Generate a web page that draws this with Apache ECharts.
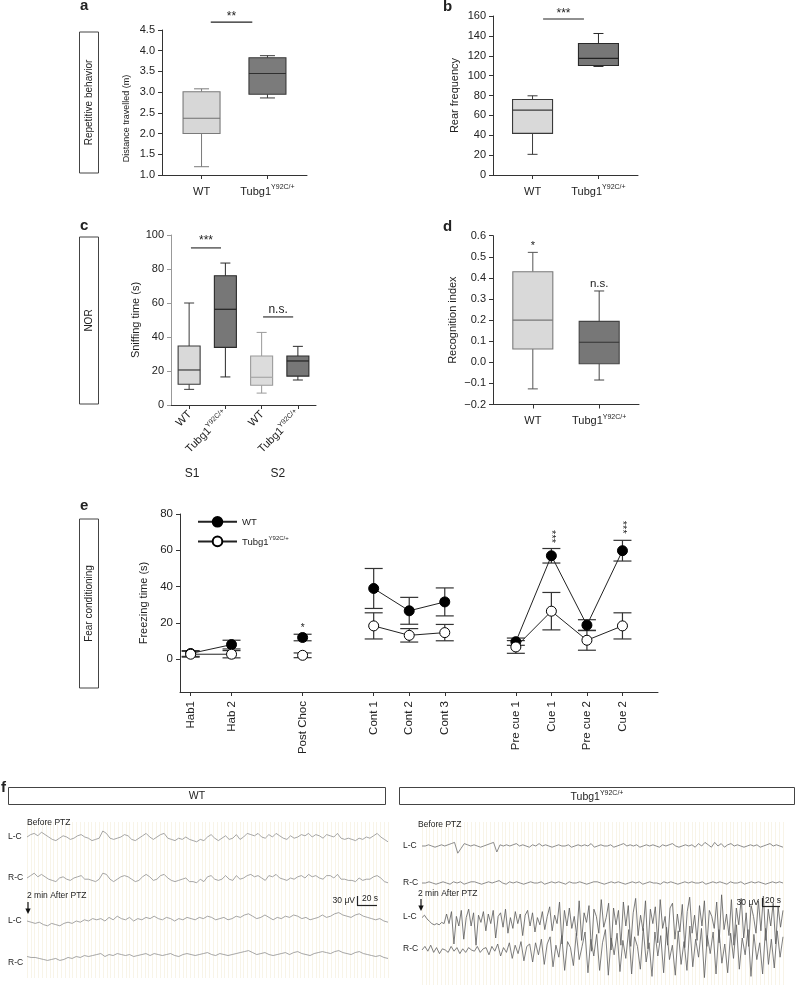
<!DOCTYPE html>
<html><head><meta charset="utf-8">
<script src="https://cdn.jsdelivr.net/npm/echarts@6.0.0/dist/echarts.min.js"></script>
<style>html,body{margin:0;padding:0;background:#fff}#c{width:796px;height:986px}</style>
</head><body><div id="c"></div>
<script>
// ---------------- DATA ----------------
const genotypes = ['WT', 'Tubg1'];
const mutantSup = 'Y92C/+';
// [min, Q1, median, Q3, max]
const distanceTravelled = [[1.2, 2.0, 2.37, 3.01, 3.08], [2.86, 2.95, 3.45, 3.83, 3.88]];
const rearFrequency = [[20.8, 41.9, 65.3, 76, 79.7], [109.2, 110.2, 117.3, 132.4, 142.4]];
const sniffGenotypes = ['WT', 'Tubg1', 'WT', 'Tubg1'];
const sniffSessions = ['S1', 'S2'];
const sniffingTime = [[9.2, 12.2, 20.6, 34.7, 60], [16.5, 33.9, 56.3, 76, 83.5], [7, 11.6, 16.3, 28.8, 42.7], [14.7, 17, 25.9, 28.8, 34.5]];
const recognitionIndex = [[-0.126, 0.063, 0.2, 0.429, 0.521], [-0.084, -0.007, 0.095, 0.194, 0.338]];

const fearPhases = ['Hab1', 'Hab 2', 'Post Choc', 'Cont 1', 'Cont 2', 'Cont 3', 'Pre cue 1', 'Cue 1', 'Pre cue 2', 'Cue 2'];
const phaseX = [0.3, 1.45, 3.45, 5.45, 6.45, 7.45, 9.45, 10.45, 11.45, 12.45];
const phaseBlock = [0, 0, 1, 2, 2, 2, 3, 3, 3, 3];
const wtFreezing = [3.2, 8.1, 12, 39, 26.7, 31.6, 9.7, 57, 18.8, 59.8];
const wtSem = [1.6, 2.4, 1.8, 11, 7.4, 7.7, 2, 4, 3, 5.7];
const tubgFreezing = [2.8, 2.8, 2.2, 18.4, 13.2, 14.7, 6.8, 26.5, 10.5, 18.4];
const tubgSem = [1.6, 2, 1.3, 7.2, 3.7, 4.5, 3.5, 10.3, 5.5, 7.2];
const freezeTicks = [0, 20, 40, 60, 80];

// EEG traces (hand-read, arbitrary units)
const wtLCpre = [0,2,3,1,4,2,0,-2,-3,-1,1,0,-2,-1,1,2,0,-1,-3,-2,-1,5,3,-1,-2,-1,0,2,1,-2,-3,-1,1,3,0,-2,0,2,3,-1,-2,-3,-1,-2,0,-2,-3,-4,-2,-3,0,2,-1,-3,-1,1,-2,-1,2,-2,0,3,2,1,3,0,-1,2,0,3,1,-1,-2,1,-1,0,2,1,3,0,2,1,-1,2,1,0,3,-1,-2,-1,-2,-3,-1,-2,0,-1,1,3,0,-2,-4];
const wtRCpre = [0,2,4,1,3,1,-1,-2,-3,0,1,-1,-2,0,1,2,-1,-1,-2,-3,-1,4,3,-1,-3,-1,1,2,1,-1,-3,-2,1,3,1,-2,-1,2,3,0,-2,-3,-2,-1,0,-3,-3,-4,-1,-3,1,2,-1,-2,-1,2,-1,-2,2,-1,0,2,3,1,2,0,-2,2,1,3,0,-1,-2,0,-1,1,2,0,3,1,2,0,-1,2,2,0,3,-1,-1,-2,-2,-3,0,-2,-1,-1,1,2,0,-3,-4];
const wtLCpost = [0,-1,-2,-1,-3,-4,-2,-3,-4,-2,-1,-2,0,-1,1,0,2,1,2,0,3,1,4,2,1,3,0,2,1,3,2,4,2,1,3,2,0,2,1,3,2,1,3,2,4,3,1,2,3,1,2,4,3,5,6,4,2,3,5,3,1,3,2,4,3,5,4,2,3,1,2,3,5,3,4,6,7,5,4,3,5,6,4,3,2,1,2,0,-1];
const wtRCpost = [0,-1,-1,-2,-3,-4,-3,-2,-4,-3,-1,-2,0,-1,1,0,1,2,3,0,2,1,3,2,1,2,0,1,2,3,1,3,2,1,2,3,1,0,2,3,2,1,2,3,4,2,1,3,2,1,2,3,4,5,6,4,2,3,4,2,1,2,3,4,2,4,5,3,2,1,3,4,5,4,3,5,6,4,3,2,4,5,3,2,1,0,1,-1,-2];
const mutLCpre = [0,0,1,0,-1,0,1,0,1,2,3,-6,-2,2,1,0,1,0,-1,0,1,2,3,-5,1,0,1,0,1,2,0,1,0,-1,1,0,2,0,1,0,-1,0,1,0,0,1,-1,0,1,0,1,0,2,-1,0,1,0,0,1,-1,0,1,2,0,1,0,1,-1,0,1,0,1,0,-1,1,0,1,2,0,-1,0,1,0,1,-1,2,0,3,1,-1,3,0,2,-1,1,2,0,1,0,-1,0,1,0,1,-1,0,1,2,0,1,0,-1];
const mutRCpre = [0,0,1,0,-1,0,1,0,-1,1,0,1,-1,0,1,1,0,-1,0,1,0,1,2,0,-1,1,0,1,0,-1,0,1,0,0,1,-1,0,1,0,1,0,-1,1,0,0,1,0,-1,0,1,1,0,-1,0,1,0,1,0,-1,0,1,0,1,-1,0,1,0,0,-1,1,0,1,0,-1,0,1,0,1,0,0,1,-1,0,1,0,1,0,-1,1,0,0,1,-1,0,1,0,1,0,-1,0,1,0,1,0];
const mutLCpost = [2,4,1,-1,-3,-4,-3,-4,-2,-3,5,-3,7,-20,3,-5,8,-16,2,9,-5,6,-21,4,-2,7,-9,5,-3,8,-15,3,6,-6,9,-11,2,-7,7,-3,5,-13,4,8,-5,6,-10,2,-4,7,-8,3,11,-9,4,-3,15,-20,8,-5,10,-7,3,-13,16,-17,6,-2,12,-26,9,3,-11,17,-6,2,14,-25,10,-4,8,-21,15,-5,12,-22,6,18,-13,4,-9,16,-24,9,-3,11,-19,17,-7,3,-21,10,14,-16,5,-10,13,-23,7,19,-11,4,-17,12,-5,16,-22,8,3,-7,15,-19,21,-8,5,-13,17,-21,10,-4,18,-15,6,-22,12,3,-11,16,-9,20,-17,9,-5,14,-20,11,-6,8];
const mutRCpost = [0,3,-1,4,-2,2,-3,1,0,-2,3,-1,2,-3,1,-2,2,0,-1,3,-2,1,2,-4,3,-1,5,-5,2,-2,6,-7,4,-3,7,-9,3,5,-10,6,-4,9,-12,5,11,-14,4,-6,12,-17,7,2,-13,14,-8,3,15,-19,9,-5,13,-17,6,17,-21,10,-4,14,-18,8,-7,17,-20,11,3,-16,18,-10,6,-22,15,-5,12,-19,19,-8,4,-21,16,-12,7,-17,20,-14,9,-6,18,-23,12,-3,15,-20,17,-11,5,-19,14,-7,21,-16,10,-4,17,-22,13,-8,6,-20,18,-12,9,-15,16,-6,11];

// ---------------- STYLE / LAYOUT ----------------
const F = '"Liberation Sans", Arial, Helvetica, sans-serif';
const TXT = '#222';
const AX = '#333';
function rich(size, sup) {
  return {
    n: {fontSize: size, fontFamily: F, color: TXT, lineHeight: size + 2, verticalAlign: 'bottom'},
    s: {fontSize: sup, fontFamily: F, color: TXT, lineHeight: sup + 2, verticalAlign: 'top'}
  };
}
function genoLabel(g) { return g === 'WT' ? '{n|WT}' : '{n|Tubg1}{s|' + mutantSup + '}'; }
function idxOf(arr, v) { let b = 0, d = 1e9; arr.forEach((a, i) => { if (Math.abs(a - v) < d) { d = Math.abs(a - v); b = i; } }); return b; }

const grids = [
  {left: 162, top: 30, width: 145, height: 145},   // a
  {left: 493, top: 16, width: 145, height: 159},   // b
  {left: 171, top: 235, width: 145, height: 170},  // c
  {left: 493, top: 235.7, width: 146, height: 168.8}, // d
  {left: 180, top: 514, width: 478, height: 178},  // e
  {left: 27, top: 801, width: 361, height: 72},
  {left: 27, top: 842, width: 361, height: 72},
  {left: 27, top: 885, width: 361, height: 72},
  {left: 27, top: 927, width: 361, height: 72},
  {left: 422, top: 810, width: 361, height: 72},
  {left: 422, top: 847, width: 361, height: 72},
  {left: 422, top: 884, width: 361, height: 72},
  {left: 422, top: 914, width: 361, height: 72},
  {left: 27, top: 822, width: 361, height: 156},   // bg WT
  {left: 422, top: 822, width: 361, height: 163}   // bg mutant
];

function catX(grid, min, max, ticks, fmt, extra) {
  return Object.assign({
    gridIndex: grid, type: 'value', min: min, max: max,
    axisLine: {onZero: false, lineStyle: {color: AX, width: 1}},
    axisTick: {customValues: ticks, length: 4, lineStyle: {color: AX}},
    axisLabel: {customValues: ticks, formatter: fmt, color: TXT, fontSize: 11, margin: 9, rich: rich(11, 7)},
    splitLine: {show: false}
  }, extra || {});
}
function valY(grid, min, max, interval, fmt, name, gap, extra) {
  return Object.assign({
    gridIndex: grid, type: 'value', min: min, max: max, interval: interval,
    axisLine: {show: true, onZero: false, lineStyle: {color: AX, width: 1}},
    axisTick: {show: true, length: 4, lineStyle: {color: AX}},
    axisLabel: {formatter: fmt, color: TXT, fontSize: 11, margin: 7},
    splitLine: {show: false},
    name: name, nameLocation: 'middle', nameGap: gap,
    nameTextStyle: {color: TXT, fontSize: 11, fontFamily: F}
  }, extra || {});
}

const xAxes = [
  catX(0, -0.6, 1.6, [0, 1], v => genoLabel(genotypes[Math.round(v)])),
  catX(1, -0.6, 1.6, [0, 1], v => genoLabel(genotypes[Math.round(v)])),
  catX(2, -0.5, 3.5, [0, 1, 2, 3], v => genoLabel(sniffGenotypes[Math.round(v)]),
    {axisLabel: {customValues: [0, 1, 2, 3], formatter: v => genoLabel(sniffGenotypes[Math.round(v)]), rotate: 45, color: TXT, fontSize: 11, margin: 7, rich: rich(11, 7)}}),
  catX(3, -0.6, 1.6, [0, 1], v => genoLabel(genotypes[Math.round(v)])),
  catX(4, 0, 13.45, phaseX, v => fearPhases[idxOf(phaseX, v)],
    {axisLabel: {customValues: phaseX, formatter: v => fearPhases[idxOf(phaseX, v)], rotate: 90, color: TXT, fontSize: 11.5, margin: 9}})
];
const yAxes = [
  valY(0, 1, 4.5, 0.5, v => v.toFixed(1), 'Distance travelled (m)', 31, {nameTextStyle: {color: TXT, fontSize: 9, fontFamily: F, padding: [0, 32, 0, 0]}}),
  valY(1, 0, 160, 20, v => String(v), 'Rear frequency', 33),
  valY(2, 0, 100, 20, v => String(v), 'Sniffing time (s)', 30, {axisLine: {show: true, onZero: false, lineStyle: {color: '#999'}}, axisTick: {show: true, length: 4, lineStyle: {color: '#999'}}}),
  valY(3, -0.2, 0.6, 0.1, v => (v < -1e-9 ? '\u2212' : '') + Math.abs(v).toFixed(1), 'Recognition index', 35),
  valY(4, -18, 80, null, v => String(v), 'Freezing time (s)', 29,
    {interval: undefined, axisLabel: {customValues: freezeTicks, color: TXT, fontSize: 11.5, margin: 7}, axisTick: {show: true, customValues: freezeTicks, length: 4, lineStyle: {color: AX}}})
];

const traces = [
  {data: wtLCpre, color: '#8f8f8f'}, {data: wtRCpre, color: '#8f8f8f'},
  {data: wtLCpost, color: '#8f8f8f'}, {data: wtRCpost, color: '#8f8f8f'},
  {data: mutLCpre, color: '#707070'}, {data: mutRCpre, color: '#707070'},
  {data: mutLCpost, color: '#5a5a5a'}, {data: mutRCpost, color: '#5e5e5e'}
];
traces.forEach((t, k) => {
  xAxes.push({gridIndex: 5 + k, type: 'value', min: 0, max: t.data.length - 1, show: false, splitLine: {show: false}});
  yAxes.push({gridIndex: 5 + k, type: 'value', min: -30, max: 30, show: false, splitLine: {show: false}});
});
[13, 14].forEach(g => {
  xAxes.push({gridIndex: g, type: 'value', min: 0, max: 95, interval: 1, axisLine: {show: false}, axisTick: {show: false}, axisLabel: {show: false},
    splitLine: {show: true, lineStyle: {color: '#f8f4e8', width: 1}}});
  yAxes.push({gridIndex: g, type: 'value', min: 0, max: 1, show: false, splitLine: {show: false}});
});
// session labels under panel c (S1 / S2)
const sessionAt = [0.08, 2.45];
xAxes.push({gridIndex: 2, type: 'value', min: -0.5, max: 3.5, position: 'bottom', offset: 58,
  axisLine: {show: false, onZero: false}, axisTick: {show: false}, splitLine: {show: false},
  axisLabel: {customValues: sessionAt, formatter: v => sniffSessions[idxOf(sessionAt, v)], color: TXT, fontSize: 12, margin: 5}});

// ---------------- SERIES ----------------
function boxSeries(grid, values, looks, capW, boxW) {
  return {
    type: 'custom', xAxisIndex: grid, yAxisIndex: grid, z: 3,
    data: values.map((v, i) => [i].concat(v)),
    encode: {x: 0, y: [1, 2, 3, 4, 5]},
    renderItem: (params, api) => {
      const x = api.value(0);
      const p = k => api.coord([x, api.value(k)]);
      const pMin = p(1), pQ1 = p(2), pMd = p(3), pQ3 = p(4), pMax = p(5);
      const cx = pMin[0], hb = boxW / 2, hc = capW / 2;
      const st = looks[params.dataIndex];
      const ws = {stroke: st.whisker, lineWidth: 1};
      return {type: 'group', children: [
        {type: 'line', shape: {x1: cx, y1: pMax[1], x2: cx, y2: pQ3[1]}, style: ws},
        {type: 'line', shape: {x1: cx, y1: pQ1[1], x2: cx, y2: pMin[1]}, style: ws},
        {type: 'line', shape: {x1: cx - hc, y1: pMax[1], x2: cx + hc, y2: pMax[1]}, style: ws},
        {type: 'line', shape: {x1: cx - hc, y1: pMin[1], x2: cx + hc, y2: pMin[1]}, style: ws},
        {type: 'rect', shape: {x: cx - hb, y: pQ3[1], width: boxW, height: pQ1[1] - pQ3[1]}, style: {fill: st.fill, stroke: st.border, lineWidth: 1.1}},
        {type: 'line', shape: {x1: cx - hb, y1: pMd[1], x2: cx + hb, y2: pMd[1]}, style: {stroke: st.median, lineWidth: 1.2}}
      ]};
    }
  };
}
const lightA = {fill: '#d7d7d7', border: '#7a7a7a', whisker: '#7a7a7a', median: '#6f6f6f'};
const darkA = {fill: '#7b7b7b', border: '#3a3a3a', whisker: '#3a3a3a', median: '#2f2f2f'};
const lightB = {fill: '#d9d9d9', border: '#3a3a3a', whisker: '#3a3a3a', median: '#3a3a3a'};
const darkB = {fill: '#777777', border: '#2a2a2a', whisker: '#2a2a2a', median: '#222'};
const lightC2 = {fill: '#dcdcdc', border: '#9a9a9a', whisker: '#9a9a9a', median: '#a8a8a8'};
const lightD = {fill: '#d9d9d9', border: '#7a7a7a', whisker: '#555', median: '#777'};
const darkD = {fill: '#777777', border: '#444', whisker: '#444', median: '#333'};

// significance annotations: [x1, x2, y] in data space of each panel
function sigSeries(grid, items, gap) {
  return {
    type: 'custom', xAxisIndex: grid, yAxisIndex: grid, z: 4,
    data: items.map(it => [it.x1, it.y, it.x2]),
    encode: {x: [0, 2], y: 1},
    renderItem: (params, api) => {
      const it = items[params.dataIndex];
      const a = api.coord([api.value(0), api.value(1)]);
      const b = api.coord([api.value(2), api.value(1)]);
      const ch = [];
      if (it.line) ch.push({type: 'line', shape: {x1: a[0], y1: a[1], x2: b[0], y2: b[1]}, style: {stroke: '#222', lineWidth: 1.1}});
      ch.push({type: 'text', x: (a[0] + b[0]) / 2, y: a[1] - (it.line ? gap : 0), rotation: it.rot || 0,
        style: {text: it.text, fill: TXT, fontSize: it.size, fontFamily: F, align: 'center', verticalAlign: 'middle'}});
      return {type: 'group', children: ch};
    }
  };
}

function errSeries(vals, sems) {
  return {
    type: 'custom', xAxisIndex: 4, yAxisIndex: 4, z: 2,
    data: vals.map((v, i) => [phaseX[i], v - sems[i], v + sems[i]]),
    encode: {x: 0, y: [1, 2]},
    renderItem: (params, api) => {
      const lo = api.coord([api.value(0), api.value(1)]);
      const hi = api.coord([api.value(0), api.value(2)]);
      const w = 9, s = {stroke: '#333', lineWidth: 1.2};
      return {type: 'group', children: [
        {type: 'line', shape: {x1: lo[0], y1: lo[1], x2: hi[0], y2: hi[1]}, style: s},
        {type: 'line', shape: {x1: lo[0] - w, y1: lo[1], x2: lo[0] + w, y2: lo[1]}, style: s},
        {type: 'line', shape: {x1: hi[0] - w, y1: hi[1], x2: hi[0] + w, y2: hi[1]}, style: s}
      ]};
    }
  };
}
function lineData(vals) {
  const out = [];
  vals.forEach((v, i) => {
    if (i > 0 && phaseBlock[i] !== phaseBlock[i - 1]) out.push([(phaseX[i] + phaseX[i - 1]) / 2, '-']);
    out.push([phaseX[i], v]);
  });
  return out;
}

const series = [
  boxSeries(0, distanceTravelled, [lightA, darkA], 15, 37),
  sigSeries(0, [{x1: 0.14, x2: 0.77, y: 4.69, text: '**', size: 12, line: true}], 5),
  boxSeries(1, rearFrequency, [lightB, darkB], 10, 40),
  sigSeries(1, [{x1: 0.16, x2: 0.78, y: 157, text: '***', size: 12, line: true}], 5),
  boxSeries(2, sniffingTime, [lightB, darkB, lightC2, darkB], 10, 22),
  sigSeries(2, [{x1: 0.05, x2: 0.88, y: 92.4, text: '***', size: 12, line: true},
                {x1: 2.04, x2: 2.87, y: 51.8, text: 'n.s.', size: 12, line: true}], 7),
  boxSeries(3, recognitionIndex, [lightD, darkD], 10, 40),
  sigSeries(3, [{x1: 0, x2: 0, y: 0.553, text: '*', size: 11}, {x1: 1, x2: 1, y: 0.371, text: 'n.s.', size: 11.5}], 0),
  errSeries(wtFreezing, wtSem),
  errSeries(tubgFreezing, tubgSem),
  {name: 'WT', type: 'line', xAxisIndex: 4, yAxisIndex: 4, z: 3, data: lineData(wtFreezing), connectNulls: false,
    symbol: 'circle', symbolSize: 10, showSymbol: true, lineStyle: {color: '#222', width: 1},
    itemStyle: {color: '#000', borderColor: '#000', borderWidth: 1}},
  {name: 'Tubg1', type: 'line', xAxisIndex: 4, yAxisIndex: 4, z: 4, data: lineData(tubgFreezing), connectNulls: false,
    symbol: 'circle', symbolSize: 10, showSymbol: true, lineStyle: {color: '#222', width: 1},
    itemStyle: {color: '#fff', borderColor: '#000', borderWidth: 1}},
  sigSeries(4, [{x1: 3.45, x2: 3.45, y: 17.3, text: '*', size: 10},
                {x1: 10.45, x2: 10.45, y: 67.6, text: '***', size: 11, rot: -Math.PI / 2},
                {x1: 12.45, x2: 12.45, y: 72.7, text: '***', size: 11, rot: -Math.PI / 2}], 0)
];
series[series.length - 1].z = 5;
traces.forEach((t, k) => {
  series.push({type: 'line', xAxisIndex: 5 + k, yAxisIndex: 5 + k, data: t.data.map((v, i) => [i, v]),
    showSymbol: false, symbol: 'none', lineStyle: {color: t.color, width: 0.8}, z: 3, silent: true});
});

// ---------------- GRAPHIC TEXT / FRAMES ----------------
const G = [];
function txt(x, y, text, o) {
  o = o || {};
  G.push({type: 'text', x: x, y: y, rotation: o.rot || 0, z: 10,
    style: {text: text, fill: o.color || TXT, fontSize: o.size || 11, fontFamily: F, fontWeight: o.weight || 'normal',
      align: o.align || 'left', verticalAlign: o.va || 'middle', rich: o.rich}});
}
function rect(x, y, w, h) { G.push({type: 'rect', z: 9, shape: {x: x, y: y, width: w, height: h}, style: {fill: '#fff', stroke: '#444', lineWidth: 1}}); }
function seg(x1, y1, x2, y2, c, w) { G.push({type: 'line', z: 10, shape: {x1: x1, y1: y1, x2: x2, y2: y2}, style: {stroke: c || '#222', lineWidth: w || 1}}); }

txt(80, 6, 'a', {size: 15, weight: 'bold'});
txt(443, 7, 'b', {size: 15, weight: 'bold'});
txt(80, 226, 'c', {size: 15, weight: 'bold'});
txt(443, 227, 'd', {size: 15, weight: 'bold'});
txt(80, 506, 'e', {size: 15, weight: 'bold'});
txt(1, 788, 'f', {size: 15, weight: 'bold'});

rect(79.5, 32, 19, 141); txt(89, 102.5, 'Repetitive behavior', {size: 10, align: 'center', rot: Math.PI / 2});
rect(79.5, 237, 19, 167); txt(89, 320.5, 'NOR', {size: 10, align: 'center', rot: Math.PI / 2});
rect(79.5, 519, 19, 169); txt(89, 603.5, 'Fear conditioning', {size: 10, align: 'center', rot: Math.PI / 2});

rect(8.5, 787.5, 377, 17); txt(197, 796, 'WT', {size: 10.5, align: 'center'});
rect(399.5, 787.5, 395, 17);
txt(597, 796, '{n|Tubg1}{s|' + mutantSup + '}', {size: 10.5, align: 'center', rich: rich(10.5, 7)});

// trace labels WT
txt(27, 823, 'Before PTZ', {size: 8.5});
txt(8, 837, 'L-C', {size: 8.5});
txt(8, 878, 'R-C', {size: 8.5});
txt(27, 896, '2 min After PTZ', {size: 8.5});
txt(8, 921, 'L-C', {size: 8.5});
txt(8, 963, 'R-C', {size: 8.5});
seg(28, 902, 28, 910, '#111', 1.2);
G.push({type: 'polygon', z: 10, shape: {points: [[25.3, 908.5], [30.7, 908.5], [28, 914]]}, style: {fill: '#111'}});
txt(355, 901, '30 \u03bcV', {size: 8.5, align: 'right'});
seg(357.5, 896, 357.5, 905.5, '#222', 1.2); seg(357, 905.5, 377, 905.5, '#222', 1.2);
txt(370, 899, '20 s', {size: 8.5, align: 'center'});

// trace labels mutant
txt(418, 825, 'Before PTZ', {size: 8.5});
txt(403, 846, 'L-C', {size: 8.5});
txt(403, 883, 'R-C', {size: 8.5});
txt(418, 894, '2 min After PTZ', {size: 8.5});
txt(403, 917, 'L-C', {size: 8.5});
txt(403, 949, 'R-C', {size: 8.5});
seg(421, 899, 421, 907, '#111', 1.2);
G.push({type: 'polygon', z: 10, shape: {points: [[418.3, 905.5], [423.7, 905.5], [421, 911]]}, style: {fill: '#111'}});
txt(759, 903, '30 \u03bcV', {size: 8.5, align: 'right'});
seg(762.5, 898, 762.5, 906.5, '#222', 1.2); seg(762, 906.5, 780, 906.5, '#222', 1.2);
txt(773, 901, '20 s', {size: 8.5, align: 'center'});

const option = {
  animation: false,
  backgroundColor: '#fff',
  textStyle: {fontFamily: F},
  grid: grids,
  xAxis: xAxes,
  yAxis: yAxes,
  legend: {
    data: ['WT', 'Tubg1'], orient: 'vertical', left: 197, top: 516, padding: 0, itemWidth: 39, itemHeight: 12, itemGap: 8,
    formatter: n => genoLabel(n), selectedMode: false,
    textStyle: {fontSize: 9.5, color: TXT, rich: rich(9.5, 6)}
  },
  series: series,
  graphic: {elements: G}
};
const chart = echarts.init(document.getElementById('c'), null, {renderer: 'canvas'});
chart.setOption(option);
</script></body></html>
